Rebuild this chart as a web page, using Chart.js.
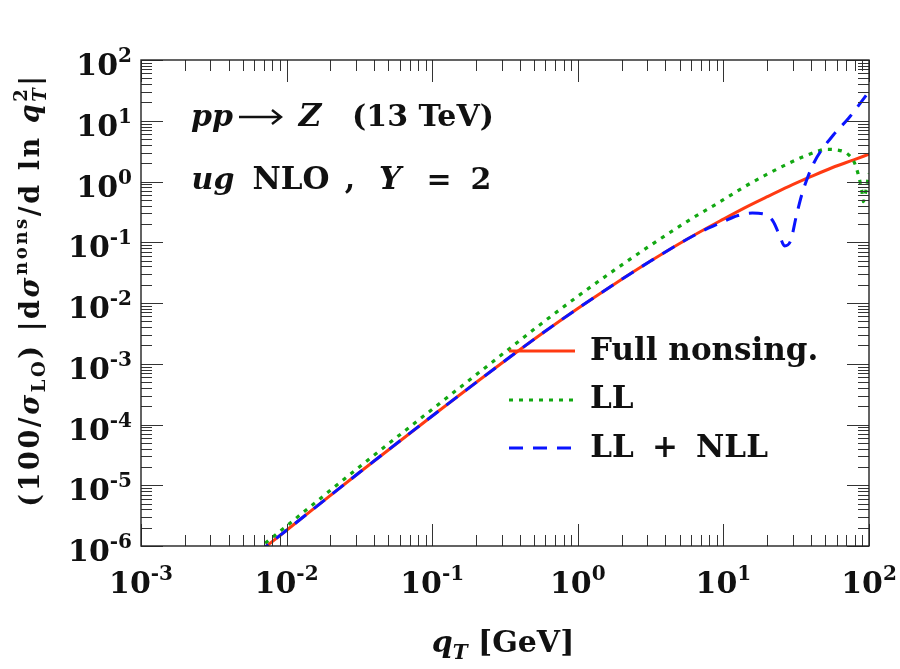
<!DOCTYPE html>
<html>
<head>
<meta charset="utf-8">
<script src="https://cdn.jsdelivr.net/npm/chart.js@4.4.1/dist/chart.umd.min.js"></script>
<style>
  html, body { margin: 0; padding: 0; background: #fff; }
  #wrap { width: 900px; height: 669px; }
</style>
</head>
<body>
<div id="wrap"><canvas id="plot" width="900" height="669"></canvas></div>
<script>
// q_T values [GeV] and curves
const qtFull = [0.0063, 0.01, 0.0316, 0.1, 0.316, 0.562, 1, 1.78, 3.16, 5.62, 10, 14.1, 20, 28.2, 39.8, 56.2, 79.4, 100];
const fullNonsing = [7.6e-7, 1.82e-6, 1.62e-5, 1.38e-4, 1.12e-3, 3.09e-3, 8.13e-3, 0.0204, 0.049, 0.112, 0.240, 0.372, 0.562, 0.832, 1.20, 1.70, 2.29, 2.82];

const qtLL = [0.0063, 0.01, 0.0316, 0.1, 0.316, 0.562, 1, 1.78, 3.16, 5.62, 10, 14.1, 20, 28.2, 35.5, 44.7, 50.1, 60.3, 70.8, 79.4, 85.1, 89.1, 91.6, 94.4, 97.7, 100];
const ll = [8.7e-7, 2.14e-6, 2.0e-5, 1.78e-4, 1.55e-3, 4.57e-3, 0.0129, 0.0347, 0.0891, 0.219, 0.501, 0.832, 1.32, 2.0, 2.57, 3.16, 3.39, 3.31, 2.88, 2.04, 1.20, 0.724, 0.468, 0.631, 1.0, 1.35];

const qtNLL = [0.0063, 0.01, 0.0316, 0.1, 0.316, 0.562, 1, 1.78, 3.16, 5.62, 7.94, 10, 12.6, 15.8, 18.6, 22.0, 24.5, 26.3, 28.8, 31.6, 34.7, 41.7, 56.9, 72.4, 100];
const llNll = [7.6e-7, 1.82e-6, 1.62e-5, 1.38e-4, 1.12e-3, 3.09e-3, 8.13e-3, 0.0204, 0.049, 0.112, 0.172, 0.219, 0.275, 0.302, 0.295, 0.219, 0.123, 0.087, 0.102, 0.263, 0.63, 2.0, 5.82, 11.0, 30.2];

const seriesNames = ['Full nonsing.', 'LL', 'LL + NLL'];
const xDecades = [-3, -2, -1, 0, 1, 2];
const yDecades = [-6, -5, -4, -3, -2, -1, 0, 1, 2];

const pts = (xs, ys) => xs.map((x, i) => ({ x: x, y: ys[i] }));

const F = 'DejaVu Serif';
const B = s => 'bold ' + s + 'px "' + F + '"';
const BI = s => 'italic bold ' + s + 'px "' + F + '"';

// draw a row of text pieces: [text, font, dy, noAdvance]
function runs(ctx, x, y, parts, align) {
  let w = 0;
  parts.forEach(p => { if (!p[3]) { ctx.font = p[1]; w += ctx.measureText(p[0]).width; } });
  let cx = align === 'center' ? x - w / 2 : align === 'right' ? x - w : x;
  ctx.textAlign = 'left';
  ctx.textBaseline = 'alphabetic';
  parts.forEach(p => {
    ctx.font = p[1];
    ctx.fillText(p[0], cx, y + (p[2] || 0));
    if (!p[3]) cx += ctx.measureText(p[0]).width;
  });
}

// pieces centred on a fixed x: [text, font, x]
function placed(ctx, y, parts) {
  ctx.textAlign = 'center';
  ctx.textBaseline = 'alphabetic';
  parts.forEach(p => { ctx.font = p[1]; ctx.fillText(p[0], p[2], y); });
}

const decor = {
  id: 'decor',
  afterDatasetsDraw(chart) {
    const ctx = chart.ctx;
    const a = chart.chartArea;
    const xs = chart.scales.x, ys = chart.scales.y;
    ctx.save();
    ctx.strokeStyle = '#333';
    ctx.lineWidth = 1;
    ctx.beginPath();
    // ticks, inward on all four sides
    xDecades.forEach(e => {
      for (let m = 1; m <= 9; m++) {
        const v = m * Math.pow(10, e);
        if (v > 100 * 1.0001) break;
        const px = Math.round(xs.getPixelForValue(v)) + 0.5;
        const len = m === 1 ? 22 : 11;
        ctx.moveTo(px, a.bottom); ctx.lineTo(px, a.bottom - len);
        ctx.moveTo(px, a.top); ctx.lineTo(px, a.top + len);
      }
    });
    yDecades.forEach(e => {
      for (let m = 1; m <= 9; m++) {
        const v = m * Math.pow(10, e);
        if (v > 100 * 1.0001) break;
        const py = Math.round(ys.getPixelForValue(v)) + 0.5;
        const len = m === 1 ? 22 : 11;
        ctx.moveTo(a.left, py); ctx.lineTo(a.left + len, py);
        ctx.moveTo(a.right, py); ctx.lineTo(a.right - len, py);
      }
    });
    ctx.stroke();
    ctx.lineWidth = 1.4;
    ctx.strokeStyle = '#222';
    ctx.strokeRect(a.left, a.top, a.right - a.left, a.bottom - a.top);

    ctx.fillStyle = '#111';
    const ex = e => (e < 0 ? '-' + (-e) : String(e));
    xDecades.forEach(e => {
      const px = xs.getPixelForValue(Math.pow(10, e));
      runs(ctx, px, a.bottom + 47, [['10', B(30)], [ex(e), B(20), -13]], 'center');
    });
    yDecades.forEach(e => {
      const py = ys.getPixelForValue(Math.pow(10, e));
      runs(ctx, a.left - 9, py + 15, [['10', B(30)], [ex(e), B(20), -13]], 'right');
    });

    // axis titles
    runs(ctx, 503, 652, [['q', BI(30)], ['T', BI(20), 7], [' [GeV]', B(30)]], 'center');
    ctx.save();
    ctx.translate(39, 290);
    ctx.rotate(-Math.PI / 2);
    ctx.letterSpacing = '2.6px';
    runs(ctx, 0, 0, [
      ['(100/', B(27)], ['\u03c3', BI(27)], ['LO', B(18), 6], [') |d', B(27)],
      ['\u03c3', BI(27)], ['nons', B(18), -12], ['/d ln ', B(27)], ['q', BI(27)],
      ['2', B(18), -12, true], ['T', BI(18), 7], ['|', B(27)]
    ], 'center');
    ctx.restore();

    // process annotations
    placed(ctx, 126, [['pp', BI(30), 212], ['Z', BI(31), 310], ['(13 TeV)', B(30), 423]]);
    ctx.beginPath();
    ctx.strokeStyle = '#111';
    ctx.lineWidth = 2.4;
    ctx.moveTo(239, 117); ctx.lineTo(280, 117);
    ctx.moveTo(272, 110); ctx.lineTo(281, 117); ctx.lineTo(272, 124);
    ctx.stroke();
    placed(ctx, 189, [['ug', BI(30), 213], ['NLO', B(31), 291], [',', B(30), 350], ['Y', BI(31), 390], ['=', B(30), 439], ['2', B(30), 481]]);

    // legend
    const rows = [351, 400, 448];
    chart.data.datasets.forEach((ds, i) => {
      ctx.beginPath();
      ctx.strokeStyle = ds.borderColor;
      ctx.lineWidth = ds.borderWidth;
      ctx.setLineDash(ds.borderDash || []);
      ctx.moveTo(509, rows[i]); ctx.lineTo(575, rows[i]);
      ctx.stroke();
      ctx.setLineDash([]);
    });
    ctx.fillStyle = '#111';
    ctx.font = B(31);
    ctx.textAlign = 'left';
    ctx.fillText(seriesNames[0], 590, 360);
    ctx.fillText(seriesNames[1], 590, 408);
    const parts = seriesNames[2].split(' ');
    placed(ctx, 457, [[parts[0], B(31), 612], [parts[1], B(31), 665], [parts[2], B(31), 732]]);
    ctx.restore();
  }
};

new Chart(document.getElementById('plot'), {
  type: 'line',
  data: {
    datasets: [
      { label: seriesNames[0], data: pts(qtFull, fullNonsing), borderColor: '#ff3a12', borderWidth: 3, order: 3 },
      { label: seriesNames[1], data: pts(qtLL, ll), borderColor: '#12a812', borderWidth: 3.2, borderDash: [4, 6], order: 2 },
      { label: seriesNames[2], data: pts(qtNLL, llNll), borderColor: '#0a14ff', borderWidth: 3, borderDash: [14, 10], order: 1 }
    ]
  },
  options: {
    responsive: false,
    animation: false,
    layout: { padding: { left: 141, right: 31, top: 60, bottom: 123 } },
    elements: { point: { radius: 0 }, line: { cubicInterpolationMode: 'monotone', fill: false } },
    plugins: { legend: { display: false }, tooltip: { enabled: false } },
    scales: {
      x: { type: 'logarithmic', min: 1e-3, max: 1e2, display: false },
      y: { type: 'logarithmic', min: 1e-6, max: 1e2, display: false }
    }
  },
  plugins: [decor]
});
</script>
</body>
</html>
